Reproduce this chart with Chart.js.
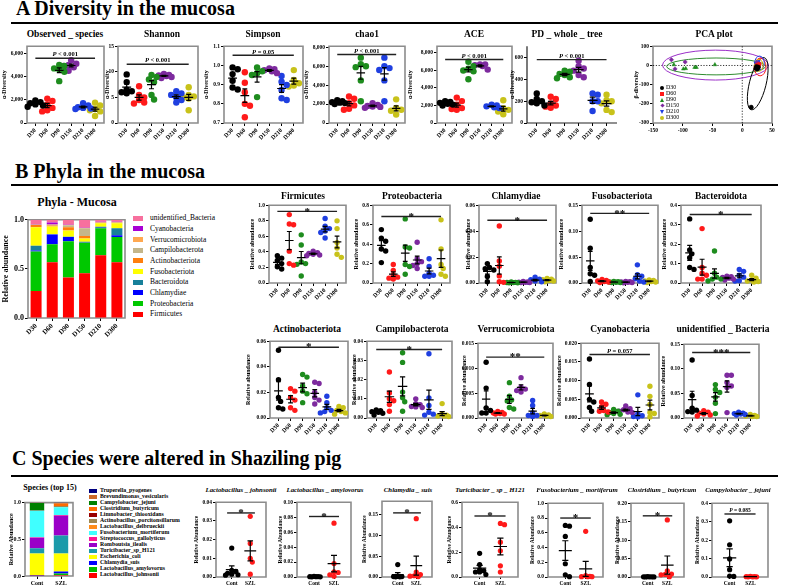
<!DOCTYPE html>
<html><head><meta charset="utf-8">
<script src="https://cdn.jsdelivr.net/npm/chart.js@4.4.1/dist/chart.umd.min.js"></script>
<style>
html,body{margin:0;padding:0;background:#fff;}
body{width:786px;height:587px;position:relative;overflow:hidden;font-family:'Liberation Serif','Times New Roman',serif;color:#000;}
canvas{position:absolute;}
.hd{position:absolute;font-weight:bold;font-size:20px;line-height:20px;white-space:nowrap;}
.rule{position:absolute;height:2px;background:#000;}
.ttl{position:absolute;font-weight:bold;white-space:nowrap;transform:translateX(-50%);line-height:1;}
.lg{position:absolute;white-space:nowrap;line-height:1;}
.sw{position:absolute;}
</style></head><body>
<div class="hd" style="left:16px;top:-2px">A Diversity in the mucosa</div>
<div class="rule" style="left:11px;top:22px;width:767px"></div>
<div class="hd" style="left:15px;top:161px">B Phyla in the mucosa</div>
<div class="rule" style="left:11px;top:184px;width:767px"></div>
<div class="hd" style="left:12px;top:448px">C Species were altered in Shaziling pig</div>
<div class="rule" style="left:11px;top:475px;width:767px"></div>
<script>
// ================= DATA =================
const dayGroups = ['D30','D60','D90','D150','D210','D300'];
const cmpGroups = ['Cont','SZL'];

// A: alpha diversity (one array per group)
const observedSpecies = [
  [1950,1800,1700,1600,1500,1400],
  [2100,1900,1600,1300,1100,1000],
  [5000,4900,4700,4600,4400,3600],
  [5400,5100,5000,4900,4800,4500],
  [1700,1500,1350,1250,1200,1300],
  [1750,1500,1200,1100,1000,600]];
const shannon = [
  [9.5,8.0,6.5,6.2,6.0,5.8],
  [7.2,5.5,5.0,4.5,4.0,3.8],
  [9.4,9.0,8.5,8.0,5.5,4.6],
  [9.6,9.4,9.3,9.2,9.0,8.8],
  [6.2,5.8,5.5,5.0,4.5,4.0],
  [7.0,5.5,5.2,5.0,4.8,2.5]];
const simpson = [
  [0.99,0.98,0.955,0.92,0.885,0.875],
  [0.965,0.91,0.86,0.80,0.79,0.73],
  [0.99,0.97,0.96,0.95,0.835],
  [0.985,0.98,0.975,0.97,0.96],
  [0.945,0.915,0.898,0.872,0.829,0.82],
  [0.976,0.924,0.907,0.895,0.89]];
const chao1 = [
  [2400,2300,2200,2150,2100,2000],
  [2800,2560,2100,1860,1500,1400],
  [6900,6200,6000,5900,4500,2300],
  [2100,1900,1800,1750,1700,1600],
  [6900,6000,5800,5600,4500,2300],
  [2500,1600,1400,1300,900]];
const ace = [
  [2500,2400,2300,2200,2100,2000],
  [2900,2500,2100,1700,1600,1500],
  [7000,6500,6200,6000,5900,5000],
  [6700,6700,6600,6500,6100],
  [2100,2000,1900,1800,1700],
  [2600,1700,1500,1300,1000]];
const pdWholeTree = [
  [270,220,200,190,180,160],
  [240,220,180,160,150,140],
  [480,470,450,440,420,410],
  [570,520,500,480,440,420],
  [270,260,200,200,110],
  [260,210,200,180,120,100]];

// PCA points [x, y]
const pcaD30  = [[24,-6],[26,-12],[25,-18],[27,-9],[23,-14],[15,-218]];
const pcaD60  = [[27,5],[28,0],[26,-3],[29,8],[27,-8],[25,2]];
const pcaD90  = [[-115,4],[-99,-18],[-95,-16],[-80,-10],[-77,-10],[-46,4]];
const pcaD150 = [[-119,30],[-113,-18],[-96,18],[27,10],[25,14],[28,6]];
const pcaD210 = [[24,10],[26,16],[25,6],[27,20],[23,12],[28,8]];
const pcaD300 = [[25,0],[26,5],[24,-5],[27,10],[25,-10],[26,3]];
// ellipses: [cx, cy, rx, ry, rotationDeg]
const pcaEllipses = [[-45,2,89,78,0],[-44,-5,83,44,0],[26,-95,14,140,14],[30,-8,10,46,0],[29,13,8,36,0],[28,1,7,31,0]];

// B: phyla stacked composition (bottom -> top)
const phylaNames = ['Firmicutes','Proteobacteria','Chlamydiae','Bacteroidota','Fusobacteriota','Actinobacteriota','Campilobacterota','Verrucomicrobiota','Cyanobacteria','unidentified_Bacteria'];
const phylaStack = [
  [0.274,0.568,0.413,0.455,0.640,0.568],
  [0.403,0.184,0.369,0.311,0.274,0.257],
  [0.010,0.099,0.043,0.003,0.005,0.017],
  [0.049,0.003,0.003,0.007,0.010,0.072],
  [0.188,0.077,0.063,0.033,0.035,0.052],
  [0.023,0.010,0.033,0.026,0.005,0.004],
  [0.003,0.008,0.020,0.079,0.003,0.004],
  [0.003,0.003,0.003,0.002,0.002,0.004],
  [0.005,0.020,0.003,0.003,0.005,0.003],
  [0.042,0.028,0.050,0.081,0.021,0.019]];

// B: phyla relative abundance per group
const firmicutes = [
  [0.35,0.32,0.29,0.25,0.21,0.18],[0.88,0.76,0.75,0.41,0.25,0.23],[0.62,0.49,0.27,0.25,0.24,0.09],
  [0.41,0.39,0.38,0.37,0.36,0.35],[0.83,0.73,0.70,0.67,0.65,0.58],[0.80,0.70,0.52,0.45,0.37,0.33]];
const proteobacteria = [
  [0.55,0.46,0.43,0.35,0.33,0.21],[0.19,0.13,0.08,0.06,0.05,0.04],[0.66,0.37,0.36,0.19,0.17,0.09],
  [0.42,0.25,0.22,0.20,0.18,0.15],[0.25,0.17,0.10,0.08,0.07,0.07],[0.65,0.35,0.19,0.15,0.09,0.07]];
const chlamydiae = [
  [0.015,0.012,0.011,0.010,0.005,0.001],[0.044,0.017,0.013,0.0055,0.001,0.0005],[0.0008,0.0005,0.0004,0.0003,0.0002,0.0001],
  [0.0012,0.0009,0.0007,0.0005,0.0004,0.0003],[0.0045,0.003,0.0025,0.0015,0.001,0.0005],[0.0035,0.003,0.0025,0.002,0.0015,0.001]];
const fusobacteriota = [
  [0.123,0.067,0.030,0.018,0.015,0.003],[0.007,0.005,0.004,0.003,0.002,0.001],[0.003,0.0025,0.002,0.0015,0.001,0.001],
  [0.003,0.0025,0.002,0.0015,0.001,0.0005],[0.035,0.016,0.013,0.008,0.004,0.002],[0.006,0.005,0.004,0.003,0.002,0.001]];
const bacteroidota = [
  [0.33,0.17,0.15,0.13,0.08,0.07],[0.28,0.08,0.05,0.04,0.02,0.02],[0.165,0.05,0.03,0.02,0.02,0.01],
  [0.035,0.032,0.028,0.025,0.02,0.015],[0.07,0.06,0.04,0.03,0.012,0.01],[0.04,0.025,0.015,0.01,0.008,0.005]];
const actinobacteriota = [
  [0.053,0.030,0.016,0.013,0.008,0.007],[0.023,0.021,0.016,0.014,0.008,0.006],[0.034,0.032,0.025,0.021,0.019,0.012],
  [0.028,0.027,0.020,0.016,0.014,0.011],[0.017,0.012,0.008,0.006,0.005,0.004],[0.009,0.008,0.006,0.005,0.004,0.003]];
const campilobacterota = [
  [0.0042,0.0038,0.0033,0.003,0.0025,0.0015],[0.024,0.013,0.010,0.009,0.007,0.0035],[0.034,0.029,0.0135,0.0105,0.0085,0.0035],
  [0.010,0.0075,0.007,0.006,0.0058,0.0055],[0.0335,0.0105,0.0065,0.003,0.002,0.0015],[0.0075,0.002,0.0015,0.001,0.001,0.0008]];
const verrucomicrobiota = [
  [0.0112,0.006,0.002,0.0015,0.001,0.001],[0.0013,0.0011,0.001,0.0009,0.0008,0.0008],[0.0071,0.0044,0.0036,0.0034,0.0021,0.0018],
  [0.0081,0.0062,0.0058,0.0055,0.0052],[0.0035,0.0025,0.001,0.0005,0.0005,0.0003],[0.0008,0.0006,0.0005,0.0004,0.0003]];
const cyanobacteria = [
  [0.0158,0.009,0.005,0.0043,0.0028,0.0018],[0.0043,0.0037,0.003,0.002,0.0018,0.0016],[0.0023,0.0018,0.0015,0.0012,0.001,0.0009],
  [0.0032,0.0025,0.0022,0.0018,0.0016,0.0015],[0.0062,0.0012,0.0006,0.0004,0.0003],[0.0085,0.0058,0.0036,0.0015,0.0012,0.0003]];
const unidentifiedBacteria = [
  [0.118,0.046,0.02,0.016,0.013,0.012],[0.015,0.012,0.010,0.008,0.006,0.004],[0.068,0.058,0.052,0.042,0.030,0.009],
  [0.087,0.087,0.072,0.065,0.062,0.011],[0.012,0.010,0.009,0.008,0.007,0.006],[0.007,0.005,0.004,0.003,0.003]];

// C: species composition (bottom -> top), values [Cont, SZL]
const speciesNames = ['Lactobacillus_johnsonii','Lactobacillus_amylovorus','Chlamydia_suis','Escherichia_coli','Turicibacter_sp_H121','Romboutsia_ilealis','Streptococcus_gallolyticus','Fusobacterium_mortiferum','Lactobacillus_delbrueckii','Actinobacillus_porcitonsillarum','Limnobacter_thiooxidans','Clostridium_butyricum','Campylobacter_jejuni','Brevundimonas_vesicularis','Truperella_pyogenes'];
const speciesStack = [
  [0.004,0.015],[0.0005,0.018],[0.006,0.028],[0.296,0.246],[0.071,0.244],[0.142,0.271],[0.008,0.008],
  [0.36,0.105],[0.002,0.003],[0.001,0.015],[0.001,0.002],[0.0005,0.032],[0.104,0.002],[0.001,0.01],[0.001,0.001]];

// C: species relative abundance [Cont, SZL]
const lJohnsonii   = [[0.0155,0.0035,0.003,0.002,0.0015,0.001,0.0012],[0.0325,0.018,0.010,0.008,0.0015]];
const lAmylovorus  = [[0.0008,0.0006,0.0005,0.0004,0.0003,0.0002],[0.072,0.018,0.007,0.006,0.003,0.001]];
const chlamydiaSuis= [[0.030,0.002,0.001,0.001,0.0005,0.0005],[0.141,0.012,0.006,0.003,0.002,0.001]];
const turicibacter = [[0.19,0.10,0.06,0.05,0.04,0.04,0.02],[0.43,0.42,0.28,0.21,0.09,0.04]];
const fMortiferum  = [[0.70,0.69,0.55,0.18,0.03,0.005],[0.62,0.02,0.01,0.005,0.005,0.005]];
const cButyricum   = [[0.0008,0.0006,0.0005,0.0004,0.0003,0.0002],[0.155,0.017,0.008,0.007,0.006,0.001]];
const cJejuni      = [[0.305,0.175,0.098,0.04,0.005,0.003],[0.003,0.002,0.002,0.001,0.001,0.001]];

// ================= STYLE =================
const FONT = "'Liberation Serif','Times New Roman',serif";
Chart.defaults.font.family = FONT;
Chart.defaults.color = '#000';
const dayColors = ['#000000','#ff1a1a','#1e8c1e','#7d2a9e','#1f3fe0','#c8c21a'];
const cmpColors = ['#000000','#ff1a1a'];
const phylaColors = ['#ff0000','#00c800','#0000ff','#17809a','#ffff00','#ff7f0e','#c4b68a','#ffa850','#a800d4','#f7709e'];
const speciesColors = ['#ff0000','#00bb00','#0000ff','#ffff00','#1b9aaa','#9b00c8','#ff1493','#40ffff','#ff8c1a','#a08850','#990000','#ff6a00','#008000','#cc6a2a','#000080'];

const fc = v => v===0 ? '0' : v.toLocaleString('en-US');
const f0 = v => String(v);
const fd = n => v => v.toFixed(n);

function addCanvas(left, top, w, h){
  const c = document.createElement('canvas');
  w = Math.round(w); h = Math.round(h);
  c.width = w; c.height = h;
  c.style.left = left+'px'; c.style.top = top+'px';
  c.style.width = w+'px'; c.style.height = h+'px';
  document.body.appendChild(c);
  return c;
}
function addTitle(text, x, y, size, italic){
  const d = document.createElement('div');
  d.className = 'ttl'; d.textContent = text;
  d.style.left = x+'px'; d.style.top = (y - size*0.5)+'px'; d.style.fontSize = size+'px';
  if (italic) d.style.fontStyle = 'italic';
  document.body.appendChild(d);
}
// deterministic bee-swarm offsets (layout only)
function swarm(vals, range, plotH, catPx, diam){
  const idx = vals.map((v,i)=>i).sort((a,b)=>vals[b]-vals[a]);
  const placed = []; const off = vals.map(()=>0);
  const step = diam*0.4;
  const cands = [0,1,-1,2,-2,3,-3];
  for (const i of idx){
    const py = vals[i]/range*plotH;
    let best = null, bestD = -1;
    for (const k of cands){
      const px = k*step;
      let md = Infinity;
      for (const p of placed) md = Math.min(md, Math.hypot(p[0]-px, p[1]-py));
      if (md >= diam*0.8){ best = px; bestD = md; break; }
      if (md > bestD){ bestD = md; best = px; }
    }
    placed.push([best, py]); off[i] = best/catPx;
  }
  return off;
}
function framePl(box){
  return {id:'frame', beforeDatasetsDraw(c){
    const {ctx, chartArea:a} = c; ctx.save(); ctx.beginPath();
    if (box){ ctx.strokeStyle='#8c8c8c'; ctx.lineWidth=1.6; ctx.rect(a.left,a.top,a.right-a.left,a.bottom-a.top); }
    else { ctx.strokeStyle='#222'; ctx.lineWidth=1.2; ctx.moveTo(a.left,a.top); ctx.lineTo(a.left,a.bottom); ctx.lineTo(a.right,a.bottom); }
    ctx.stroke(); ctx.restore();
  }};
}
function meanSemPl(groups, mw, cw){
  return {id:'meansem', afterDatasetsDraw(c){
    const {ctx, scales:{x,y}} = c; ctx.save(); ctx.strokeStyle='#000'; ctx.lineWidth=1.2;
    groups.forEach((vals,i)=>{
      const n = vals.length, m = vals.reduce((s,v)=>s+v,0)/n;
      const sd = Math.sqrt(vals.reduce((s,v)=>s+(v-m)*(v-m),0)/(n-1)), se = sd/Math.sqrt(n);
      const xc = x.getPixelForValue(i), hw = x.getPixelForValue(i+mw)-xc, hc = x.getPixelForValue(i+cw)-xc;
      const ym = y.getPixelForValue(m), y1 = y.getPixelForValue(Math.max(m-se, y.min)), y2 = y.getPixelForValue(m+se);
      ctx.beginPath();
      ctx.moveTo(xc-hw,ym); ctx.lineTo(xc+hw,ym);
      ctx.moveTo(xc,y1); ctx.lineTo(xc,y2);
      ctx.moveTo(xc-hc,y1); ctx.lineTo(xc+hc,y1);
      ctx.moveTo(xc-hc,y2); ctx.lineTo(xc+hc,y2);
      ctx.stroke();
    });
    ctx.restore();
  }};
}
function drawPText(ctx, text, cx, by, fs){
  const rest = text.slice(1);
  ctx.font = `italic bold ${fs}px ${FONT}`; const w1 = ctx.measureText('P').width;
  ctx.font = `bold ${fs}px ${FONT}`; const w2 = ctx.measureText(rest).width;
  const x0 = cx-(w1+w2)/2; ctx.textAlign='left'; ctx.textBaseline='alphabetic';
  ctx.font = `italic bold ${fs}px ${FONT}`; ctx.fillText('P', x0, by);
  ctx.font = `bold ${fs}px ${FONT}`; ctx.fillText(rest, x0+w1, by);
}
function sigPl(sg, sfs, pfs){
  return {id:'sig', afterDatasetsDraw(c){
    if (!sg) return;
    const {ctx, scales:{x,y}} = c;
    const yp = y.getPixelForValue(sg.v), x1 = x.getPixelForValue(sg.x1), x2 = x.getPixelForValue(sg.x2);
    ctx.save(); ctx.strokeStyle='#222'; ctx.lineWidth=1.4;
    ctx.beginPath(); ctx.moveTo(x1,yp); ctx.lineTo(x2,yp); ctx.stroke();
    ctx.fillStyle='#000'; const cx=(x1+x2)/2;
    if (sg.text.startsWith('P')) drawPText(ctx, sg.text, cx, yp-1.8, pfs);
    else { ctx.font=`bold ${sfs}px ${FONT}`; ctx.textAlign='center'; ctx.textBaseline='alphabetic'; ctx.fillText(sg.text, cx, yp+3.2); }
    ctx.restore();
  }};
}
function baseOpts(padT, padR){
  return {responsive:false, maintainAspectRatio:false, animation:false, events:[], devicePixelRatio:1,
    layout:{autoPadding:false, padding:{top:padT, right:padR, left:0, bottom:0}},
    plugins:{legend:{display:false}, tooltip:{enabled:false}, title:{display:false}}};
}
function yAxis(s, yW){
  return {min:s.yMin, max:s.yMax,
    afterBuildTicks:a=>{a.ticks = s.ticks.map(v=>({value:v}));},
    ticks:{callback:v=>s.fmt(v), font:{size:s.yfs, weight:'bold'}, padding:1, color:'#000'},
    grid:{drawOnChartArea:false, drawTicks:true, tickLength:3, color:'#000', lineWidth:1},
    border:{display:false},
    title:{display:true, text:s.yTitle, font:{size:s.ytfs, weight:'bold'}, padding:0, color:'#000'},
    afterFit:a=>{a.width = yW;}};
}

function makeScatter(spec, defs){
  const s = Object.assign({}, defs, spec);
  const padT = 4, padR = 4;
  const left = Math.floor(s.ytx - s.ytfs*0.6); const yW = s.l - left;
  const W = (s.r-s.l)+yW+padR, H = (s.b-s.t)+padT+s.xH;
  const cv = addCanvas(left, s.t-padT, W, H);
  const catPx = (s.r-s.l)/(s.xMax-s.xMin);
  const datasets = s.data.map((vals,i)=>{
    const off = swarm(vals.map(v=>v-s.yMin), s.yMax-s.yMin, s.b-s.t, catPx, s.rad*2);
    return {label:s.labels[i], data:vals.map((v,j)=>({x:i+off[j], y:v})),
      backgroundColor:s.colors[i], borderColor:s.colors[i], borderWidth:0,
      pointRadius:s.rad, pointHoverRadius:s.rad, clip:false};
  });
  const o = baseOpts(padT, padR);
  o.scales = {
    x:{type:'linear', min:s.xMin, max:s.xMax,
      afterBuildTicks:a=>{a.ticks = s.labels.map((_,i)=>({value:i}));},
      ticks:{callback:v=>s.labels[v] ?? '', font:{size:s.xfs, weight:'bold'}, minRotation:s.rot, maxRotation:s.rot, padding:1, autoSkip:false, color:'#000'},
      grid:{drawOnChartArea:false, drawTicks:true, tickLength:s.xtl, color:'#000', lineWidth:1},
      border:{display:false}, afterFit:a=>{a.height = s.xH;}},
    y: yAxis(s, yW)};
  const sg = s.sig ? Object.assign({x1:s.sx1, x2:s.sx2}, s.sig) : null;
  new Chart(cv, {type:'scatter', data:{datasets}, options:o,
    plugins:[framePl(s.box), meanSemPl(s.data, s.mw, s.cw), sigPl(sg, s.sfs, s.pfs)]});
  addTitle(s.title, s.tx, s.ty, s.tfs, s.italic);
}

function makeStack(s){
  const padT = 3, padR = 3;
  const left = Math.floor(s.ytx - s.ytfs*0.6); const yW = s.l - left;
  const W = (s.r-s.l)+yW+padR, H = (s.b-s.t)+padT+s.xH;
  const cv = addCanvas(left, s.t-padT, W, H);
  const o = baseOpts(padT, padR);
  o.scales = {
    x:{stacked:true, grid:{offset:false, drawOnChartArea:false, drawTicks:true, tickLength:3, color:'#000'},
      border:{display:false},
      ticks:{font:{size:s.xfs, weight:'bold'}, minRotation:s.rot, maxRotation:s.rot, padding:1, autoSkip:false, color:'#000'},
      afterFit:a=>{a.height = s.xH;}},
    y: Object.assign(yAxis(s, yW), {stacked:true})};
  new Chart(cv, {type:'bar',
    data:{labels:s.labels, datasets:s.values.map((v,k)=>({label:s.names[k], data:v, backgroundColor:s.colors[k], borderWidth:0, barPercentage:s.bp, categoryPercentage:1}))},
    options:o, plugins:[framePl(true)]});
  addTitle(s.title, s.tx, s.ty, s.tfs, false);
  // legend (top item = last series)
  for (let k=s.names.length-1, i=0; k>=0; k--, i++){
    const yc = s.lgY0 + i*s.lgDy;
    const sw = document.createElement('div'); sw.className='sw';
    Object.assign(sw.style,{left:s.lgX+'px', top:(yc-s.swH/2)+'px', width:s.swW+'px', height:s.swH+'px', background:s.colors[k]});
    document.body.appendChild(sw);
    const t = document.createElement('div'); t.className='lg'; t.textContent = s.names[k];
    Object.assign(t.style,{left:s.lgTX+'px', top:(yc-s.lgFs*0.52)+'px', fontSize:s.lgFs+'px', fontWeight:s.lgBold?'bold':'normal'});
    document.body.appendChild(t);
  }
}

function makePCA(){
  const s = {l:653, r:772, t:46, b:123, ytx:637, ytfs:6, yfs:5.5, yMin:-300, yMax:100, ticks:[-300,-200,-100,0,100], fmt:f0, yTitle:'β-diversity'};
  const padT = 4, padR = 6, xH = 12;
  const left = Math.floor(s.ytx - s.ytfs*0.6); const yW = s.l - left;
  const cv = addCanvas(left, s.t-padT, (s.r-s.l)+yW+padR, (s.b-s.t)+padT+xH);
  const groups = [pcaD30, pcaD60, pcaD90, pcaD150, pcaD210, pcaD300];
  const styles = ['circle','rect','triangle','rectRot','triangle','circle'];
  const rots = [0,0,0,0,180,0];
  const ellColors = ['#9b30c8','#2e8b2e','#000000','#ff1a1a','#1f3fe0','#d0b000'];
  const datasets = groups.map((g,i)=>({label:dayGroups[i], data:g.map(p=>({x:p[0], y:p[1]})),
    pointStyle:styles[i], rotation:rots[i], pointRadius:2.2, backgroundColor:dayColors[i], borderColor:dayColors[i], borderWidth:0.5, clip:false}));
  const deco = {id:'pcadeco', beforeDatasetsDraw(c){
    const {ctx, scales:{x,y}, chartArea:a} = c; ctx.save();
    ctx.setLineDash([1.2,1.6]); ctx.strokeStyle='#000'; ctx.lineWidth=0.8; ctx.beginPath();
    const x0 = x.getPixelForValue(0), y0 = y.getPixelForValue(0);
    ctx.moveTo(x0,a.top); ctx.lineTo(x0,a.bottom); ctx.moveTo(a.left,y0); ctx.lineTo(a.right,y0); ctx.stroke();
    ctx.setLineDash([]);
    pcaEllipses.forEach((e,i)=>{
      const cx = x.getPixelForValue(e[0]), cy = y.getPixelForValue(e[1]);
      const rx = Math.abs(x.getPixelForValue(e[0]+e[2])-cx), ry = Math.abs(y.getPixelForValue(e[1]+e[3])-cy);
      ctx.strokeStyle = ellColors[i]; ctx.lineWidth = 1; ctx.beginPath();
      ctx.ellipse(cx, cy, rx, ry, e[4]*Math.PI/180, 0, Math.PI*2); ctx.stroke();
    });
    ctx.restore();
  }};
  const o = baseOpts(padT, padR);
  o.scales = {
    x:{type:'linear', min:-150, max:50, afterBuildTicks:a=>{a.ticks=[-150,-100,-50,0,50].map(v=>({value:v}));},
      ticks:{callback:v=>String(v), font:{size:5.5, weight:'bold'}, minRotation:0, maxRotation:0, padding:1, color:'#000'},
      grid:{drawOnChartArea:false, tickLength:3, color:'#000'}, border:{display:false}, afterFit:a=>{a.height=xH;}},
    y: yAxis(s, yW)};
  new Chart(cv, {type:'scatter', data:{datasets}, options:o, plugins:[framePl(true), deco]});
  addTitle('PCA plot', 714, 34.5, 9.5, false);
  // legend
  dayGroups.forEach((g,i)=>{
    const yc = 87.5 + i*6, col = dayColors[i];
    const m = document.createElement('div'); m.className='sw';
    const st = {left:'660px', top:(yc-2)+'px'};
    if (i===0 || i===5) Object.assign(st,{width:'4px',height:'4px',borderRadius:'50%',background:col});
    else if (i===1) Object.assign(st,{width:'4px',height:'4px',background:col});
    else if (i===2) Object.assign(st,{width:0,height:0,borderLeft:'2.3px solid transparent',borderRight:'2.3px solid transparent',borderBottom:'4px solid '+col});
    else if (i===3) Object.assign(st,{left:'660.5px',width:'3px',height:'3px',background:col,transform:'rotate(45deg)'});
    else Object.assign(st,{width:0,height:0,borderLeft:'2.3px solid transparent',borderRight:'2.3px solid transparent',borderTop:'4px solid '+col});
    Object.assign(m.style, st); document.body.appendChild(m);
    const t = document.createElement('div'); t.className='lg'; t.textContent = g;
    Object.assign(t.style,{left:'666px', top:(yc-3.1)+'px', fontSize:'6px'});
    document.body.appendChild(t);
  });
}

// ================= LAYOUT =================
const defA = {labels:dayGroups, colors:dayColors, xMin:-0.7, xMax:5.75, rot:45, xfs:6, yfs:5.5, ytfs:6, xH:22, xtl:3,
  rad:3.2, mw:0.36, cw:0.2, box:true, yMin:0, sfs:11, pfs:6.5, sx1:0, sx2:5, t:46, b:123, ty:34.5, tfs:9.5, yTitle:'α-Diversity'};
const defB = Object.assign({}, defA, {rad:2.7, yTitle:'Relative abundance', tfs:9.5});
const defC = {labels:cmpGroups, colors:cmpColors, xMin:-0.85, xMax:1.85, rot:0, xfs:5.5, yfs:5.5, ytfs:5.5, xH:10, xtl:2,
  rad:2.6, mw:0.32, cw:0.15, box:true, yMin:0, sfs:11, pfs:5.5, sx1:-0.25, sx2:1.25, b:577, ty:490, tfs:6.8, italic:true, yTitle:'Relative Abundance'};

const specsA = [
  {title:'Observed _ species', tx:65, data:observedSpecies, l:27, r:104, yMax:6600, ticks:[0,2000,4000,6000], fmt:fc, ytx:5, sig:{v:5570, text:'P < 0.001'}},
  {title:'Shannon', tx:162, data:shannon, l:118, r:198, yMax:15, ticks:[0,5,10,15], fmt:f0, ytx:108, sig:{v:11.5, text:'P < 0.001'}},
  {title:'Simpson', tx:263, data:simpson, l:224, r:303, yMin:0.7, yMax:1.1, ticks:[0.7,0.8,0.9,1.0,1.1], fmt:fd(1), ytx:207, sig:{v:1.053, text:'P = 0.05'}},
  {title:'chao1', tx:367, data:chao1, l:329, r:405, yMax:8100, ticks:[0,2000,4000,6000,8000], fmt:fc, ytx:307, sig:{v:7227, text:'P < 0.001'}},
  {title:'ACE', tx:474, data:ace, l:437, r:512, yMax:8760, ticks:[0,2000,4000,6000,8000], fmt:fc, ytx:411, sig:{v:7247, text:'P < 0.001'}},
  {title:'PD _ whole _ tree', tx:567, data:pdWholeTree, l:527, r:617, yMax:703, ticks:[0,200,400,600], fmt:f0, ytx:513, box:false, sig:{v:581, text:'P < 0.001'}}
];
const specsB = [
  {title:'Firmicutes', tx:303, ty:196.3, data:firmicutes, l:269, r:346, t:205, b:283, yMax:1.0, ticks:[0,0.2,0.4,0.6,0.8,1.0], fmt:fd(1), ytx:253, sig:{v:0.922, text:'*'}},
  {title:'Proteobacteria', tx:412, ty:196.3, data:proteobacteria, l:373, r:450, t:205, b:283, yMax:0.8, ticks:[0,0.2,0.4,0.6,0.8], fmt:fd(1), ytx:357, sig:{v:0.684, text:'*'}},
  {title:'Chlamydiae', tx:516, ty:196.3, data:chlamydiae, l:479, r:556, t:205, b:283, yMax:0.06, ticks:[0,0.02,0.04,0.06], fmt:fd(2), ytx:469, sig:{v:0.0484, text:'*'}},
  {title:'Fusobacteriota', tx:622, ty:196.3, data:fusobacteriota, l:582, r:658, t:205, b:283, yMax:0.15, ticks:[0,0.05,0.10,0.15], fmt:fd(2), ytx:562, sig:{v:0.1344, text:'**'}},
  {title:'Bacteroidota', tx:721, ty:196.3, data:bacteroidota, l:681, r:761, t:205, b:283, yMax:0.4, ticks:[0,0.1,0.2,0.3,0.4], fmt:fd(1), ytx:665, sig:{v:0.353, text:'*'}},
  {title:'Actinobacteriota', tx:307, ty:330, data:actinobacteriota, l:270, r:348, t:341, b:418, yMax:0.06, ticks:[0,0.02,0.04,0.06], fmt:fd(2), ytx:249, sig:{v:0.0554, text:'*'}},
  {title:'Campilobacterota', tx:412, ty:330, data:campilobacterota, l:367, r:452, t:341, b:418, yMax:0.04, ticks:[0,0.01,0.02,0.03,0.04], fmt:fd(2), ytx:355, sig:{v:0.0357, text:'*'}},
  {title:'Verrucomicrobiota', tx:516, ty:330, data:verrucomicrobiota, l:478, r:553, t:343, b:418, yMax:0.015, ticks:[0,0.005,0.010,0.015], fmt:fd(3), ytx:465, sig:{v:0.01222, text:'**'}},
  {title:'Cyanobacteria', tx:620, ty:330, data:cyanobacteria, l:581, r:659, t:343, b:418, yMax:0.02, ticks:[0,0.005,0.010,0.015,0.020], fmt:fd(3), ytx:560, sig:{v:0.017, text:'P = 0.057'}},
  {title:'unidentified _ Bacteria', tx:723, ty:330, data:unidentifiedBacteria, l:684, r:759, t:344, b:418, yMax:0.15, ticks:[0,0.05,0.10,0.15], fmt:fd(2), ytx:664, sig:{v:0.1332, text:'***'}}
];
const specsC = [
  {title:'Lactobacillus _ johnsonii', tx:241, data:lJohnsonii, l:216, r:266, t:502, yMax:0.04, ticks:[0,0.01,0.02,0.03,0.04], fmt:fd(2), ytx:197, sig:{v:0.0343, text:'*'}},
  {title:'Lactobacillus _ amylovorus', tx:325, data:lAmylovorus, l:297, r:351, t:502, yMax:0.10, ticks:[0,0.02,0.04,0.06,0.08,0.10], fmt:fd(2), ytx:281, sig:{v:0.081, text:'*'}},
  {title:'Chlamydia _ suis', tx:408, data:chlamydiaSuis, l:382, r:432, t:501, yMax:0.183, ticks:[0,0.05,0.10,0.15], fmt:fd(2), ytx:365, sig:{v:0.155, text:'*'}},
  {title:'Turicibacter _ sp _ H121', tx:490, data:turicibacter, l:462, r:518, t:502, yMax:0.6, ticks:[0,0.2,0.4,0.6], fmt:fd(1), ytx:450, sig:{v:0.49, text:'*'}},
  {title:'Fusobacterium _ mortiferum', tx:577, data:fMortiferum, l:548, r:603, t:503, yMax:1.0, ticks:[0,0.2,0.4,0.6,0.8,1.0], fmt:fd(1), ytx:533, sig:{v:0.80, text:'*'}},
  {title:'Clostridium _ butyricum', tx:662, data:cButyricum, l:631, r:684, t:503, yMax:0.20, ticks:[0,0.05,0.10,0.15,0.20], fmt:fd(2), ytx:618, sig:{v:0.166, text:'*'}},
  {title:'Campylobacter _ jejuni', tx:738, data:cJejuni, l:712, r:768, t:503, yMax:0.4, ticks:[0,0.1,0.2,0.3,0.4], fmt:fd(1), ytx:698, sig:{v:0.342, text:'P = 0.085'}}
];

specsA.forEach(s=>makeScatter(s, defA));
makePCA();
specsB.forEach(s=>makeScatter(s, defB));
specsC.forEach(s=>makeScatter(s, defC));

makeStack({title:'Phyla - Mucosa', tx:77, ty:202, tfs:12, labels:dayGroups, names:phylaNames, values:phylaStack, colors:phylaColors,
  l:28, r:125, t:217, b:318, ytx:6, ytfs:8, yfs:8, xfs:7, rot:45, xH:26, bp:0.68, yMin:0, yMax:1, ticks:[0,0.5,1.0], fmt:fd(1), yTitle:'Relative abundance',
  lgX:133, lgTX:150, lgY0:218, lgDy:10.7, swW:10, swH:5, lgFs:7.5, lgBold:false});
makeStack({title:'Species (top 15)', tx:50, ty:487.5, tfs:8, labels:cmpGroups, names:speciesNames, values:speciesStack, colors:speciesColors,
  l:25, r:73, t:501, b:576, ytx:12, ytfs:6, yfs:6, xfs:6, rot:0, xH:11, bp:0.6, yMin:0, yMax:1, ticks:[0,0.5,1.0], fmt:fd(1), yTitle:'Relative Abundance',
  lgX:89, lgTX:100, lgY0:491, lgDy:6.02, swW:8, swH:4.5, lgFs:5.8, lgBold:true});
</script>
</body></html>
